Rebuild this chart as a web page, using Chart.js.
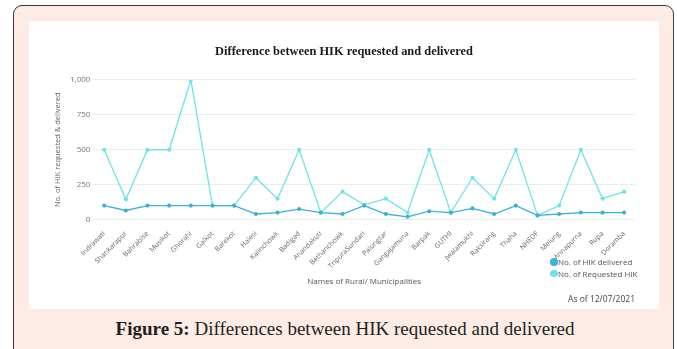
<!DOCTYPE html>
<html>
<head>
<meta charset="utf-8">
<script src="https://cdn.jsdelivr.net/npm/chart.js@4"></script>
<style>
  html, body { margin:0; padding:0; }
  body { width:677px; height:349px; overflow:hidden; background:#ffffff; position:relative; font-family:'Open Sans', sans-serif; }
  #frame { position:absolute; left:13px; top:5px; width:659px; height:400px; border:1.5px solid #3a3a3a; border-radius:9px; background:#fdece5; }
  #panel { position:absolute; left:29px; top:21px; width:630px; height:288px; background:#ffffff; }
  #legend { position:absolute; left:550px; top:256px; font-size:8px; color:#555; line-height:11.5px; }
  #legend .item { display:flex; align-items:center; white-space:nowrap; }
  #legend .dot { width:7.5px; height:7.5px; border-radius:50%; margin-right:0.5px; }
  #caption { position:absolute; left:0; width:690px; top:318px; text-align:center; font-family:'Liberation Serif', serif; font-size:19px; color:#231f20; }
</style>
</head>
<body>
<div id="frame"></div>
<div id="panel"><canvas id="c"></canvas></div>
<div id="legend"></div>
<div id="caption"><b>Figure 5:</b> Differences between HIK requested and delivered</div>
<script>
const categories = ["Indrawati","Shankarapur","Bahrabise","Musikot","Ghorahi","Galkot","Barekot","Halesi","Kalinchowk","Badigad","Anandakuti","Bethanchowk","TripuraSundari","Palungtar","Gangajamuna","Barpak","GUTHI","Jwalamukhi","Raksirang","Thaha","NHEDF","Melung","Annapurna","Rupa","Doramba"];
const delivered = [100,65,100,100,100,100,100,40,50,75,50,40,100,40,20,60,50,80,40,100,30,40,50,50,50];
const requested = [500,145,500,500,1000,100,100,300,150,500,50,200,105,150,50,500,50,300,150,500,30,100,500,150,200];
const yTicks = [0,250,500,750,1000];
const seriesNames = ["No. of HIK delivered","No. of Requested HIK"];
const seriesColors = ["#3bb2d8","#6fe2ea"];

Chart.defaults.font.family = "'Open Sans', sans-serif";

const chart = new Chart(document.getElementById('c'), {
  type: 'line',
  data: {
    labels: categories,
    datasets: [
      { label: seriesNames[0], data: delivered, borderColor: seriesColors[0], backgroundColor: seriesColors[0], borderWidth: 1.3, pointRadius: 1.4, pointHoverRadius: 2, tension: 0, order: 1 },
      { label: seriesNames[1], data: requested, borderColor: seriesColors[1], backgroundColor: seriesColors[1], borderWidth: 1.3, pointRadius: 1.4, pointHoverRadius: 2, tension: 0, order: 2 }
    ]
  },
  options: {
    responsive: true,
    maintainAspectRatio: false,
    animation: false,
    layout: { padding: { left: 24, right: 24, top: 0, bottom: 4 } },
    plugins: {
      legend: { display: false },
      tooltip: { enabled: false },
      title: { display: true, text: 'Difference between HIK requested and delivered', color: '#1a1a1a', font: { family: "'Liberation Serif', serif", size: 12.4, weight: 'bold' }, padding: { top: 23, bottom: 21 } },
      subtitle: { display: true, position: 'bottom', align: 'end', text: 'As of 12/07/2021', color: '#444', font: { size: 8.5 }, padding: { top: 8, bottom: 0 } }
    },
    scales: {
      x: {
        offset: true,
        grid: { display: false },
        border: { display: false },
        ticks: { autoSkip: false, maxRotation: 45, minRotation: 45, color: '#666', font: { size: 7 }, padding: 2 },
        title: { display: true, text: 'Names of Rural/ Municipalities', color: '#555', font: { size: 8 }, padding: { top: 5, bottom: 0 } }
      },
      y: {
        min: 0, max: 1000,
        afterBuildTicks: (axis) => { axis.ticks = yTicks.map(v => ({ value: v })); },
        grid: { color: '#ececec', drawTicks: false, lineWidth: 1 },
        border: { display: false },
        ticks: { color: '#777', font: { size: 8 }, padding: 3, callback: (v) => v.toLocaleString('en-US') },
        title: { display: true, text: 'No. of HIK requested & delivered', color: '#666', font: { size: 7.5 }, padding: { top: 0, bottom: 5 } }
      }
    }
  }
});

const legendEl = document.getElementById('legend');
chart.data.datasets.forEach(ds => {
  const item = document.createElement('div');
  item.className = 'item';
  const dot = document.createElement('span');
  dot.className = 'dot';
  dot.style.background = ds.borderColor;
  const txt = document.createElement('span');
  txt.textContent = ds.label;
  item.appendChild(dot); item.appendChild(txt);
  legendEl.appendChild(item);
});
</script>
</body>
</html>
